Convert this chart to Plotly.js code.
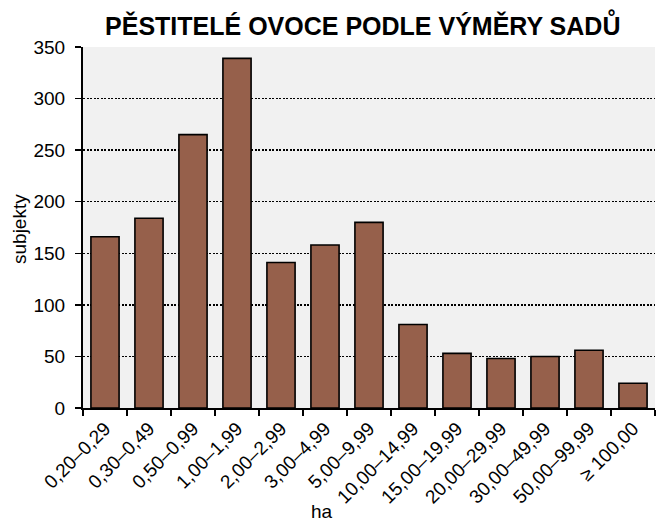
<!DOCTYPE html>
<html><head><meta charset="utf-8">
<script src="https://cdn.plot.ly/plotly-3.0.1.min.js"></script>
<style>body{margin:0;padding:0;background:#fff}#c{width:656px;height:524px}</style>
</head><body><div id="c"></div>
<script>
const categories = ["0,20–0,29","0,30–0,49","0,50–0,99","1,00–1,99","2,00–2,99","3,00–4,99","5,00–9,99","10,00–14,99","15,00–19,99","20,00–29,99","30,00–49,99","50,00–99,99","≥ 100,00"];
const subjekty = [166, 184, 265, 339, 141, 158, 180, 81, 53, 48, 50, 56, 24];
const yTicks = [0, 50, 100, 150, 200, 250, 300, 350];

const font = "Liberation Sans, Arial, sans-serif";
Plotly.newPlot("c", [{
  type: "bar",
  x: categories,
  y: subjekty,
  marker: {color: "#96604B", line: {color: "#000", width: 1.6}},
  hoverinfo: "none"
}], {
  width: 656, height: 524,
  margin: {l: 83, r: 1, t: 47, b: 116},
  paper_bgcolor: "#fff",
  plot_bgcolor: "#f1f1f1",
  bargap: 0.36,
  showlegend: false,
  title: {text: "<b>PĚSTITELÉ OVOCE PODLE VÝMĚRY SADŮ</b>", font: {family: font, size: 25, color: "#000"}, x: 0.553, xanchor: "center", y: 0.949, yanchor: "middle"},
  xaxis: {
    type: "category",
    tickangle: -45,
    tickfont: {family: font, size: 19, color: "#000"},
    ticks: "outside", ticklen: 6, tickwidth: 1.5, tickcolor: "#000",
    tickson: "boundaries",
    showline: true, linecolor: "#000", linewidth: 2,
    showgrid: false
  },
  yaxis: {
    range: [0, 350],
    tickvals: yTicks,
    tickfont: {family: font, size: 19, color: "#000"},
    ticks: "outside", ticklen: 6, tickwidth: 1.5, tickcolor: "#000",
    ticklabelstandoff: 6,
    showline: true, linecolor: "#000", linewidth: 2,
    showgrid: true, gridcolor: "#000", gridwidth: 1.4, griddash: "2px,1.5px",
    zeroline: false
  },
  annotations: [
    {text: "ha", xref: "paper", yref: "paper", x: (322 - 83) / 572, y: (408 - 512) / 361, xanchor: "center", yanchor: "middle", showarrow: false, font: {family: font, size: 19, color: "#000"}},
    {text: "subjekty", xref: "paper", yref: "paper", x: (19 - 83) / 572, y: (408 - 229) / 361, xanchor: "center", yanchor: "middle", textangle: -90, showarrow: false, font: {family: font, size: 19, color: "#000"}}
  ]
}, {displayModeBar: false, staticPlot: true});
</script></body></html>
